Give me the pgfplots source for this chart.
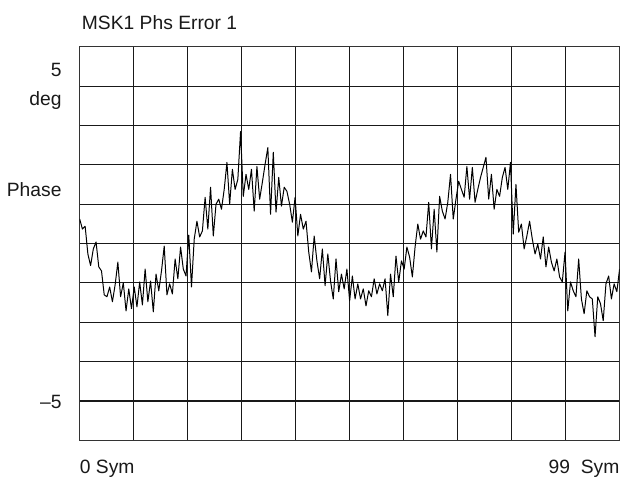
\documentclass[border=0pt]{standalone}
\usepackage{pgfplots}
\pgfplotsset{compat=1.18}
\usepackage{fontspec}
\setmainfont{Liberation Sans}
\begin{document}
\begin{tikzpicture}
\begin{axis}[
  at={(0,0)}, anchor=south west,
  scale only axis,
  width=406.5pt, height=296.25pt,
  xmin=0, xmax=99, ymin=-6.25, ymax=6.25,
  xtick={0,9.9,...,99.1},
  ytick={-6.25,-5,...,6.3},
  xticklabels={}, yticklabels={},
  major tick length=0pt,
  grid=major,
  grid style={line width=0.9pt, black!90},
  axis line style={line width=0.9pt, black!80},
  clip=true,
]
\addplot[black, line width=0.75pt, line join=round] coordinates {
(0,0.78) (0.5,0.46) (1,0.55) (1.5,-0.33) (2,-0.7) (2.5,-0.17) (3,0.05) (3.5,-0.74) (4,-0.87) (4.5,-1.63)
(5,-1.69) (5.5,-1.38) (6,-1.85) (6.5,-1.31) (7,-0.59) (7.5,-1.69) (8,-1.25) (8.5,-2.14) (9,-1.44) (9.5,-2.07)
(10,-1.38) (10.5,-2.01) (11,-1.22) (11.5,-1.95) (12,-0.81) (12.5,-1.85) (13,-1.19) (13.5,-2.17) (14,-0.97) (14.5,-1.5)
(15,-0.87) (15.5,-0.08) (16,-1.63) (16.5,-1.28) (17,-1.6) (17.5,-0.49) (18,-1.12) (18.5,-0.11) (19,-0.81) (19.5,-1.03)
(20,0.27) (20.5,-1.38) (21,0.14) (21.5,0.71) (22,0.21) (22.5,0.4) (23,1.47) (23.5,0.46) (24,1.79) (24.5,0.24)
(25,1.25) (25.5,1.41) (26,1.09) (26.5,1.72) (27,2.58) (27.5,1.25) (28,2.36) (28.5,1.72) (29,2.04) (29.5,3.56)
(30,1.5) (30.5,2.2) (31,1.72) (31.5,2.36) (32,1.03) (32.5,2.45) (33,1.41) (33.5,1.95) (34,2.52) (34.5,3.05)
(35,0.93) (35.5,2.9) (36,1.0) (36.5,2.1) (37,1.19) (37.5,1.79) (38,1.66) (38.5,1.25) (39,0.68) (39.5,1.47)
(40,0.24) (40.5,0.93) (41,0.46) (41.5,0.71) (42,-0.27) (42.5,-0.9) (43,0.24) (43.5,-0.55) (44,-1.12) (44.5,-0.17)
(45,-1.34) (45.5,-0.33) (46,-1.19) (46.5,-1.76) (47,-0.49) (47.5,-1.53) (48,-0.97) (48.5,-1.44) (49,-0.81) (49.5,-1.82)
(50,-1.03) (50.5,-1.76) (51,-1.28) (51.5,-1.76) (52,-1.44) (52.5,-1.98) (53,-1.5) (53.5,-1.69) (54,-1.12) (54.5,-1.6)
(55,-1.28) (55.5,-1.5) (56,-1.12) (56.5,-2.29) (57,-0.97) (57.5,-1.69) (58,-0.4) (58.5,-1.22) (59,-0.55) (59.5,-0.81)
(60,-0.11) (60.5,-0.43) (61,-1.06) (61.5,-0.11) (62,0.62) (62.5,0.14) (63,0.4) (63.5,0.21) (64,1.31) (64.5,-0.17)
(65,1.09) (65.5,-0.27) (66,1.5) (66.5,1.03) (67,0.78) (67.5,1.31) (68,2.2) (68.5,0.78) (69,1.41) (69.5,1.98)
(70,1.72) (70.5,1.47) (71,2.45) (71.5,1.41) (72,2.42) (72.5,1.31) (73,1.72) (73.5,2.1) (74,2.42) (74.5,2.74)
(75,1.41) (75.5,2.2) (76,1.09) (76.5,1.72) (77,1.5) (77.5,2.1) (78,2.42) (78.5,1.72) (79,2.58) (79.5,0.3)
(80,1.88) (80.5,0.36) (81,0.62) (81.5,-0.17) (82,0.24) (82.5,0.71) (83,0.14) (83.5,-0.33) (84,-0.02) (84.5,-0.49)
(85,0.21) (85.5,-0.74) (86,-0.11) (86.5,-0.59) (87,-0.87) (87.5,-0.49) (88,-1.06) (88.5,-1.22) (89,-0.27) (89.5,-2.14)
(90,-1.22) (90.5,-1.5) (91,-1.69) (91.5,-0.49) (92,-1.76) (92.5,-2.23) (93,-1.5) (93.5,-1.69) (94,-1.76) (94.5,-2.96)
(95,-1.69) (95.5,-1.91) (96,-2.45) (96.5,-1.28) (97,-1.03) (97.5,-1.76) (98,-1.28) (98.5,-1.53) (99,-0.81)
};
\end{axis}
\path (-60pt,-28.5pt) rectangle (408pt,331.5pt);
\begin{scope}[every node/.style={font=\fontsize{14.5pt}{16pt}\selectfont, inner sep=0pt, text=black!90}]
\node[anchor=base west] at (1.5pt,309pt) {MSK1 Phs Error 1};
\node[anchor=base east] at (-13.5pt,273.75pt) {5};
\node[anchor=base east] at (-13.5pt,252pt) {deg};
\node[anchor=base east] at (-13.5pt,183.75pt) {Phase};
\node[anchor=base east] at (-13.5pt,24pt) {–5};
\node[anchor=base west] at (0pt,-24.75pt) {0 Sym};
\node[anchor=base east] at (406.5pt,-24.75pt) {99\ \ Sym};
\end{scope}
\end{tikzpicture}
\end{document}
